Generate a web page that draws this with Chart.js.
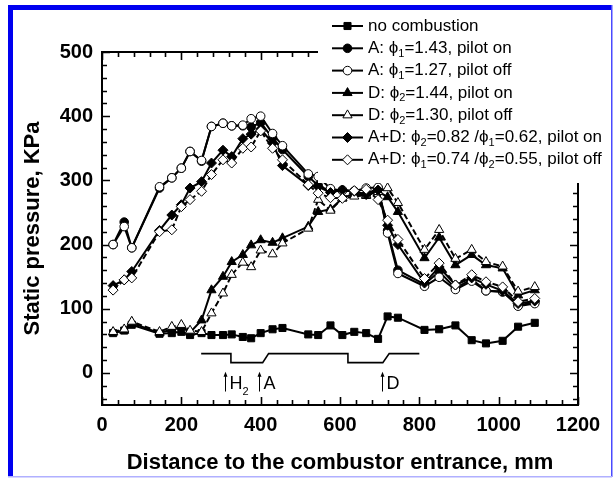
<!DOCTYPE html>
<html>
<head>
<meta charset="utf-8">
<script src="https://cdn.jsdelivr.net/npm/chart.js@4.4.0/dist/chart.umd.min.js"></script>
<style>
  html, body { margin: 0; padding: 0; background: #fff; }
  #wrap { position: relative; width: 615px; height: 478px; }
</style>
</head>
<body>
<div id="wrap"><canvas id="chart" width="615" height="478"></canvas></div>
<script>
// ---------- DATA ----------
// pressure tap positions, mm from combustor entrance
const distance = [28, 56, 75, 145, 176, 200, 222, 251, 276, 305, 327, 355, 376, 400, 430, 455, 520,
                  545, 576, 606, 636, 666, 696, 720, 746, 813, 850, 891, 932, 968, 1010, 1049, 1091];

// static pressure, KPa
const noCombustion = [62, 66, 75, 61, 62, 64, 59, 62, 59, 59, 60, 56, 54, 62, 68, 70, 60,
                      59, 74, 59, 64, 62, 53, 88, 86, 67, 68, 74, 51, 46, 50, 72, 78];
const aPilotOn     = [200, 235, 195, 288, 304, 319, 345, 330, 384, 389, 385, 385, 383, 390, 366, 348, 306,
                      292, 283, 285, 283, 278, 288, 222, 160, 138, 158, 132, 146, 128, 126, 105, 110];
const aPilotOff    = [200, 228, 195, 290, 304, 319, 345, 331, 384, 389, 385, 386, 396, 400, 373, 354, 310,
                      306, 287, 284, 283, 288, 289, 218, 155, 135, 149, 130, 143, 128, 127, 104, 108];
const dPilotOn     = [63, 66, 78, 62, 68, 72, 63, 82, 129, 150, 173, 184, 199, 207, 203, 210, 228,
                      251, 255, 272, 280, 276, 283, 274, 251, 179, 211, 168, 184, 168, 163, 121, 129];
const dPilotOff    = [64, 68, 80, 64, 72, 75, 66, 64, 93, 124, 153, 172, 165, 191, 185, 202, 225,
                      270, 253, 272, 275, 277, 282, 288, 265, 192, 223, 178, 192, 173, 166, 127, 134];
const adPilotOn    = [136, 145, 158, 222, 246, 262, 288, 298, 327, 347, 337, 365, 372, 380, 358, 323, 292,
                      290, 281, 285, 283, 278, 285, 230, 200, 140, 165, 137, 148, 138, 128, 108, 112];
const adPilotOff   = [129, 145, 148, 220, 223, 259, 270, 283, 309, 332, 327, 350, 352, 377, 350, 332, 293,
                      280, 273, 272, 284, 286, 270, 238, 208, 147, 171, 137, 153, 142, 134, 111, 116];

// combustor wall profile sketch and injector positions
const profileX = [250, 325, 325, 405, 420, 620, 620, 708, 724, 800];
const profileY = [30, 30, 16, 16, 30, 30, 16, 16, 30, 30];
const injectorX = [311, 397, 707];
const injectorLabels = [["H", { sub: "2" }], ["A"], ["D"]];

// axes
const xTicks = [0, 200, 400, 600, 800, 1000, 1200];
const yTicks = [0, 100, 200, 300, 400, 500];

const legendLabels = [
    ["no combustion"],
    ["A: \u03d5", { sub: "1" }, "=1.43, pilot on"],
    ["A: \u03d5", { sub: "1" }, "=1.27, pilot off"],
    ["D: \u03d5", { sub: "2" }, "=1.44, pilot on"],
    ["D: \u03d5", { sub: "2" }, "=1.30, pilot off"],
    ["A+D: \u03d5", { sub: "2" }, "=0.82 /\u03d5", { sub: "1" }, "=0.62, pilot on"],
    ["A+D: \u03d5", { sub: "1" }, "=0.74 /\u03d5", { sub: "2" }, "=0.55, pilot off"]
];

// ---------- STYLES ----------
const FONT = "'Liberation Sans', Arial, sans-serif";
const seriesValues = [noCombustion, aPilotOn, aPilotOff, dPilotOn, dPilotOff, adPilotOn, adPilotOff];
const seriesStyle = [
    { shape: "rect", r: 5, filled: true },
    { shape: "circle", r: 4.3, filled: true },
    { shape: "circle", r: 4.3, filled: false },
    { shape: "triangle", r: 5.3, filled: true },
    { shape: "triangle", r: 5.3, filled: false, dash: [6, 3] },
    { shape: "rectRot", r: 5, filled: true },
    { shape: "rectRot", r: 5, filled: false, dash: [6, 3] }
];

// ---------- DATASETS ----------
const datasets = seriesValues.map((vals, i) => {
    const st = seriesStyle[i];
    return {
        data: distance.map((x, j) => ({ x, y: vals[j] })),
        showLine: true,
        borderColor: "#000",
        borderWidth: 2,
        borderDash: st.dash || [],
        pointStyle: st.shape,
        pointRadius: st.r,
        pointBorderWidth: 1,
        pointBorderColor: "#000",
        pointBackgroundColor: st.filled ? "#000" : "#fff",
        order: 10 - i
    };
});

datasets.push({
    data: profileX.map((x, j) => ({ x, y: profileY[j] })),
    showLine: true,
    borderColor: "#000",
    borderWidth: 1.6,
    pointRadius: 0,
    order: 20
});

// ---------- HELPERS ----------
function drawRich(ctx, parts, x, y, size) {
    parts.forEach(p => {
        const sub = typeof p !== "string";
        const txt = sub ? p.sub : p;
        ctx.font = (sub ? Math.round(size * 0.62) : size) + "px " + FONT;
        ctx.fillText(txt, x, sub ? y + size * 0.32 : y);
        x += ctx.measureText(txt).width;
    });
}

function marker(ctx, st, x, y) {
    ctx.save();
    ctx.fillStyle = st.filled ? "#000" : "#fff";
    ctx.strokeStyle = "#000";
    ctx.lineWidth = 1;
    Chart.helpers.drawPoint(ctx, { pointStyle: st.shape, radius: st.r, rotation: 0, borderWidth: 1 }, x, y);
    ctx.restore();
}

// ---------- FRAME, TICKS, NOTES, LEGEND ----------
const decorPlugin = {
    id: "decor",
    beforeDatasetsDraw(chart) {
        const { ctx, chartArea: a, scales: { x, y } } = chart;
        ctx.save();
        ctx.strokeStyle = "#000";
        ctx.lineWidth = 2;
        ctx.strokeRect(a.left, a.top, a.right - a.left, a.bottom - a.top);
        ctx.lineWidth = 1.6;
        ctx.beginPath();
        for (let v = 0; v <= 1200; v += 40) {
            const px = Math.round(x.getPixelForValue(v)) + 0.5;
            const len = v % 200 === 0 ? 8 : 5;
            ctx.moveTo(px, a.bottom); ctx.lineTo(px, a.bottom - len);
            ctx.moveTo(px, a.top); ctx.lineTo(px, a.top + len);
        }
        for (let v = -40; v <= 500; v += 20) {
            const py = Math.round(y.getPixelForValue(v)) + 0.5;
            const len = v % 100 === 0 ? 8 : 5;
            ctx.moveTo(a.left, py); ctx.lineTo(a.left + len, py);
            ctx.moveTo(a.right, py); ctx.lineTo(a.right - len, py);
        }
        ctx.stroke();

        // injector arrows
        ctx.fillStyle = "#000";
        ctx.lineWidth = 1;
        ctx.textBaseline = "alphabetic";
        injectorX.forEach((mm, i) => {
            const px = Math.round(x.getPixelForValue(mm)) + 0.5;
            const top = y.getPixelForValue(2), bot = y.getPixelForValue(-29);
            ctx.beginPath();
            ctx.moveTo(px, bot); ctx.lineTo(px, top + 2);
            ctx.stroke();
            ctx.beginPath();
            ctx.moveTo(px, top); ctx.lineTo(px - 2, top + 5); ctx.lineTo(px + 2, top + 5);
            ctx.closePath(); ctx.fill();
            drawRich(ctx, injectorLabels[i], px + 4, y.getPixelForValue(-25), 18);
        });
        ctx.restore();
    },
    afterDatasetsDraw(chart) {
        const { ctx } = chart;
        ctx.save();
        // legend box over the plot corner
        ctx.fillStyle = "#fff";
        ctx.fillRect(318, 11, 292, 172);
        ctx.textBaseline = "middle";
        legendLabels.forEach((parts, i) => {
            const ly = 26 + i * 22.3;
            ctx.strokeStyle = "#000";
            ctx.lineWidth = 2;
            ctx.beginPath();
            ctx.moveTo(332, ly); ctx.lineTo(363, ly);
            ctx.stroke();
            marker(ctx, seriesStyle[i], 347.5, ly);
            ctx.fillStyle = "#000";
            drawRich(ctx, parts, 368, ly, 17);
        });
        // page border
        ctx.fillStyle = "#0000f0";
        ctx.fillRect(8, 5, 5, 472);
        ctx.fillRect(8, 5, 604, 5);
        ctx.fillStyle = "#4a4aff";
        ctx.fillRect(611, 5, 1.5, 472);
        ctx.fillStyle = "#b0b0ff";
        ctx.fillRect(8, 476, 604, 1.5);
        ctx.restore();
    }
};

// ---------- CHART ----------
new Chart(document.getElementById("chart"), {
    type: "scatter",
    data: { datasets },
    options: {
        responsive: false,
        animation: false,
        devicePixelRatio: 1,
        events: [],
        layout: { padding: { left: 0, right: 37, top: 52, bottom: 0 } },
        plugins: { legend: { display: false }, tooltip: { enabled: false } },
        scales: {
            x: {
                type: "linear",
                min: 0,
                max: 1200,
                afterBuildTicks: s => { s.ticks = xTicks.map(v => ({ value: v })); },
                afterFit: s => { s.height = 73; },
                grid: { display: false, drawTicks: false },
                border: { display: false },
                ticks: {
                    color: "#000",
                    padding: 8,
                    callback: v => String(v),
                    font: { family: FONT, size: 20, weight: "bold" }
                },
                title: {
                    display: true,
                    text: "Distance to the combustor entrance, mm",
                    color: "#000",
                    padding: { top: 0, bottom: 2 },
                    font: { family: FONT, size: 22, weight: "bold" }
                }
            },
            y: {
                type: "linear",
                min: -50,
                max: 500,
                afterBuildTicks: s => { s.ticks = yTicks.map(v => ({ value: v })); },
                afterFit: s => { s.width = 102; },
                grid: { display: false, drawTicks: false },
                border: { display: false },
                ticks: {
                    color: "#000",
                    padding: 9,
                    callback: v => String(v),
                    font: { family: FONT, size: 20, weight: "bold" }
                },
                title: {
                    display: true,
                    text: "Static pressure, KPa",
                    color: "#000",
                    padding: { top: 20, bottom: 0 },
                    font: { family: FONT, size: 22, weight: "bold" }
                }
            }
        }
    },
    plugins: [decorPlugin]
});
</script>
</body>
</html>
